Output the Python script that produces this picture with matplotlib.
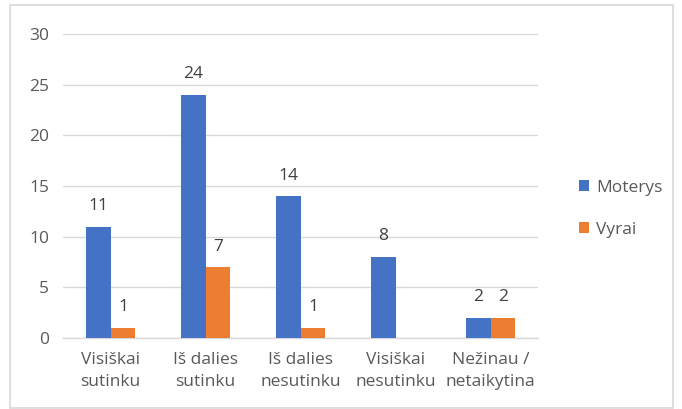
import matplotlib
matplotlib.use("Agg")
import matplotlib.pyplot as plt
import numpy as np
from matplotlib.patches import Rectangle

categories = ["Visiškai\nsutinku", "Iš dalies\nsutinku", "Iš dalies\nnesutinku", "Visiškai\nnesutinku", "Nežinau /\nnetaikytina"]
moterys = [11, 24, 14, 8, 2]
vyrai = [1, 7, 1, 0, 2]
series_names = ["Moterys", "Vyrai"]
yticks = [0, 5, 10, 15, 20, 25, 30]

plt.rcParams['font.family'] = ['Open Sans', 'DejaVu Sans']
txt = '#595959'
fs = 12.5

fig = plt.figure(figsize=(6.82, 4.09), dpi=100)
fig.patches.append(Rectangle((10/682, 1/409), 663/682, 403/409, transform=fig.transFigure,
                             fill=False, edgecolor='#d9d9d9', linewidth=1.2))
ax = fig.add_axes([63/682, 1-338/409, 475/682, 304/409])

x = np.arange(len(categories))
w = 0.263
b1 = ax.bar(x - w/2, moterys, w, color='#4472C4', label=series_names[0], zorder=3)
b2 = ax.bar(x + w/2, vyrai, w, color='#ED7D31', label=series_names[1], zorder=3)

for bars, vals in ((b1, moterys), (b2, vyrai)):
    for r, v in zip(bars, vals):
        if v == 0:
            continue
        ax.annotate(str(v), (r.get_x() + r.get_width()/2, v), xytext=(0, 9),
                    textcoords='offset points', ha='center', va='bottom',
                    fontsize=fs, color='#404040')

ax.set_xlim(-0.5, len(categories) - 0.5)
ax.set_ylim(0, 30)
ax.set_yticks(yticks)
ax.set_xticks(x)
ax.set_xticklabels(categories, fontsize=fs, color=txt, linespacing=1.55)
ax.tick_params(axis='y', labelsize=fs, labelcolor=txt, length=0, pad=10)
ax.tick_params(axis='x', length=0, pad=10)
ax.grid(axis='y', color='#d9d9d9', linewidth=1, zorder=0)
for s in ['top', 'right', 'left']:
    ax.spines[s].set_visible(False)
ax.spines['bottom'].set_color('#d9d9d9')
ax.spines['bottom'].set_linewidth(1)

fig.legend(handles=[b1, b2], labels=series_names, loc='center left',
           bbox_to_anchor=(563/682, 1-209/409), frameon=False, fontsize=fs,
           labelcolor=txt, handlelength=0.6, handleheight=0.6, handletextpad=0.4,
           labelspacing=1.5)

fig.savefig('out.png', dpi=100)
